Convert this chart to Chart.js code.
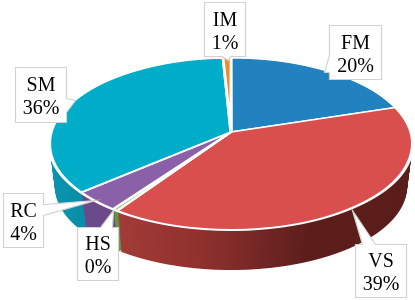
<!DOCTYPE html>
<html><head><meta charset="utf-8">
<style>html,body{margin:0;padding:0;background:#fff}canvas{display:block}</style>
<script src="https://cdn.jsdelivr.net/npm/chart.js@4"></script>
</head><body>
<canvas id="c" width="415" height="300"></canvas>
<script>
const categories = ['FM','VS','HS','RC','SM','IM'];
const shares = [20.1,39.4,0.4,3.8,35.5,0.8];
const topColors = ['#2281BF','#D94F4E','#7AB648','#8A60A8','#00ADC8','#F08A2E'];
const wallStops = [
  [[0,'#1A6A9E'],[1,'#1A6A9E']],
  [[0.18,'#A63D39'],[0.43,'#8F312E'],[0.69,'#5C1E1B'],[1,'#5A1D1A']],
  [[0,'#5F9A3A'],[1,'#5F9A3A']],
  [[0,'#6B4A8A'],[1,'#6B4A8A']],
  [[0,'#0A94AE'],[0.1,'#0A8FA9'],[1,'#0A8FA9']],
  [[0,'#C06E22'],[1,'#C06E22']]
];
// Perspective of the disc
const view = {ax:231, topY:132, bottomY:175, bottomScale:0.97, k:0.1395, b:84.3, R:179.7, back:74, front:98, depth:40};
// Callouts: box [x0,y0,x1,y1], side holding the pointer, pointer base and tip
const callouts = [
  {box:[329,25,381,79], side:'l', base:[55,72], tip:[324,72]},
  {box:[355,244,406,297], side:'t', base:[362,375], tip:[352,210]},
  {box:[77,227,118,280], side:'t', base:[100,112], tip:[113,210]},
  {box:[3,193,43,247], side:'r', base:[204,215], tip:[95,200]},
  {box:[15,67,66,122], side:'r', base:[98,112], tip:[75,100]},
  {box:[204,2,245,56], side:'b', base:[222,230], tip:[228,60]}
];

function drawDisc(chart, t, rowFrom, paint) {
  const ctx = chart.ctx, arcs = chart.getDatasetMeta(0).data;
  const cx = arcs[0].x, cy = arcs[0].y, Rc = arcs[0].outerRadius;
  const ay = view.bottomY + (view.topY - view.bottomY) * t;
  const s = view.bottomScale + (1 - view.bottomScale) * t;
  const y0 = Math.floor(ay - (view.back + 2) * s), y1 = Math.ceil(ay + (view.front + 2) * s);
  for (let y = Math.max(y0, Math.floor(ay + rowFrom)); y <= y1; y++) {
    const Y = (y + 0.5 - ay) / s;
    const den = view.b + view.k * Y;
    const v = Y / den;
    if (v < -1.05 || v > 1.05) continue;
    const g = 1 / (1 - view.k * v);
    const dvdy = view.b / (den * den) / s;
    const a = view.R * s * g / Rc, d = 1 / (Rc * dvdy);
    ctx.save();
    ctx.setTransform(1,0,0,1,0,0);
    ctx.beginPath(); ctx.rect(0, y, 415, 1); ctx.clip();
    ctx.setTransform(a, 0, 0, d, view.ax - a * cx, y + 0.5 - d * (cy + Rc * v));
    paint(arcs);
    ctx.restore();
  }
}

const discPlugin = {
  id: 'disc',
  beforeDatasetsDraw(chart) {
    const ctx = chart.ctx, arcs = chart.getDatasetMeta(0).data;
    const cx = arcs[0].x, Rc = arcs[0].outerRadius;
    const fills = wallStops.map(stops => {
      const gr = ctx.createLinearGradient(cx - Rc, 0, cx + Rc, 0);
      stops.forEach(p => gr.addColorStop(p[0], p[1]));
      return gr;
    });
    const gap = 0.004;
    const originals = arcs.map(a => a.options);
    const wall = all => all.forEach((a, i) => {
      const st = a.startAngle, en = a.endAngle;
      a.options = Object.assign({}, originals[i], {backgroundColor: fills[i], borderWidth: 0});
      a.startAngle = st + gap; a.endAngle = en - gap;
      a.draw(ctx);
      a.startAngle = st; a.endAngle = en;
    });
    for (let l = 0; l < view.depth; l++) drawDisc(chart, l / view.depth, -12, wall);
    arcs.forEach((a, i) => { a.options = originals[i]; });
    drawDisc(chart, 1, -100, all => all.forEach(a => a.draw(ctx)));
    return false;
  },
  afterDraw(chart) {
    const ctx = chart.ctx;
    ctx.save();
    ctx.setTransform(1,0,0,1,0,0);
    callouts.forEach((c, i) => {
      const [x0,y0,x1,y1] = c.box;
      const pts = [[x0,y0]];
      if (c.side === 't') pts.push([c.base[0],y0], c.tip, [c.base[1],y0]);
      pts.push([x1,y0]);
      if (c.side === 'r') pts.push([x1,c.base[0]], c.tip, [x1,c.base[1]]);
      pts.push([x1,y1]);
      if (c.side === 'b') pts.push([c.base[1],y1], c.tip, [c.base[0],y1]);
      pts.push([x0,y1]);
      if (c.side === 'l') pts.push([x0,c.base[1]], c.tip, [x0,c.base[0]]);
      ctx.beginPath();
      pts.forEach((p, j) => j ? ctx.lineTo(p[0]+.5,p[1]+.5) : ctx.moveTo(p[0]+.5,p[1]+.5));
      ctx.closePath();
      ctx.fillStyle = '#fff'; ctx.fill();
      ctx.strokeStyle = '#D2D2D2'; ctx.lineWidth = 1.2; ctx.stroke();
      ctx.fillStyle = '#000';
      ctx.font = '20px "Liberation Serif"';
      ctx.textAlign = 'center'; ctx.textBaseline = 'alphabetic';
      const mx = (x0 + x1) / 2 + .5, my = (y0 + y1) / 2;
      ctx.fillText(categories[i], mx, my - 3.5);
      ctx.fillText(Math.round(shares[i]) + '%', mx, my + 19.5);
    });
    ctx.restore();
  }
};

new Chart(document.getElementById('c'), {
  type: 'pie',
  data: {labels: categories, datasets: [{data: shares, backgroundColor: topColors, borderColor: '#fff', borderWidth: 2.6}]},
  options: {
    responsive: false, animation: false, events: [],
    layout: {padding: 0},
    plugins: {legend: {display: false}, tooltip: {enabled: false}, title: {display: false}}
  },
  plugins: [discPlugin]
});
</script>
</body></html>
